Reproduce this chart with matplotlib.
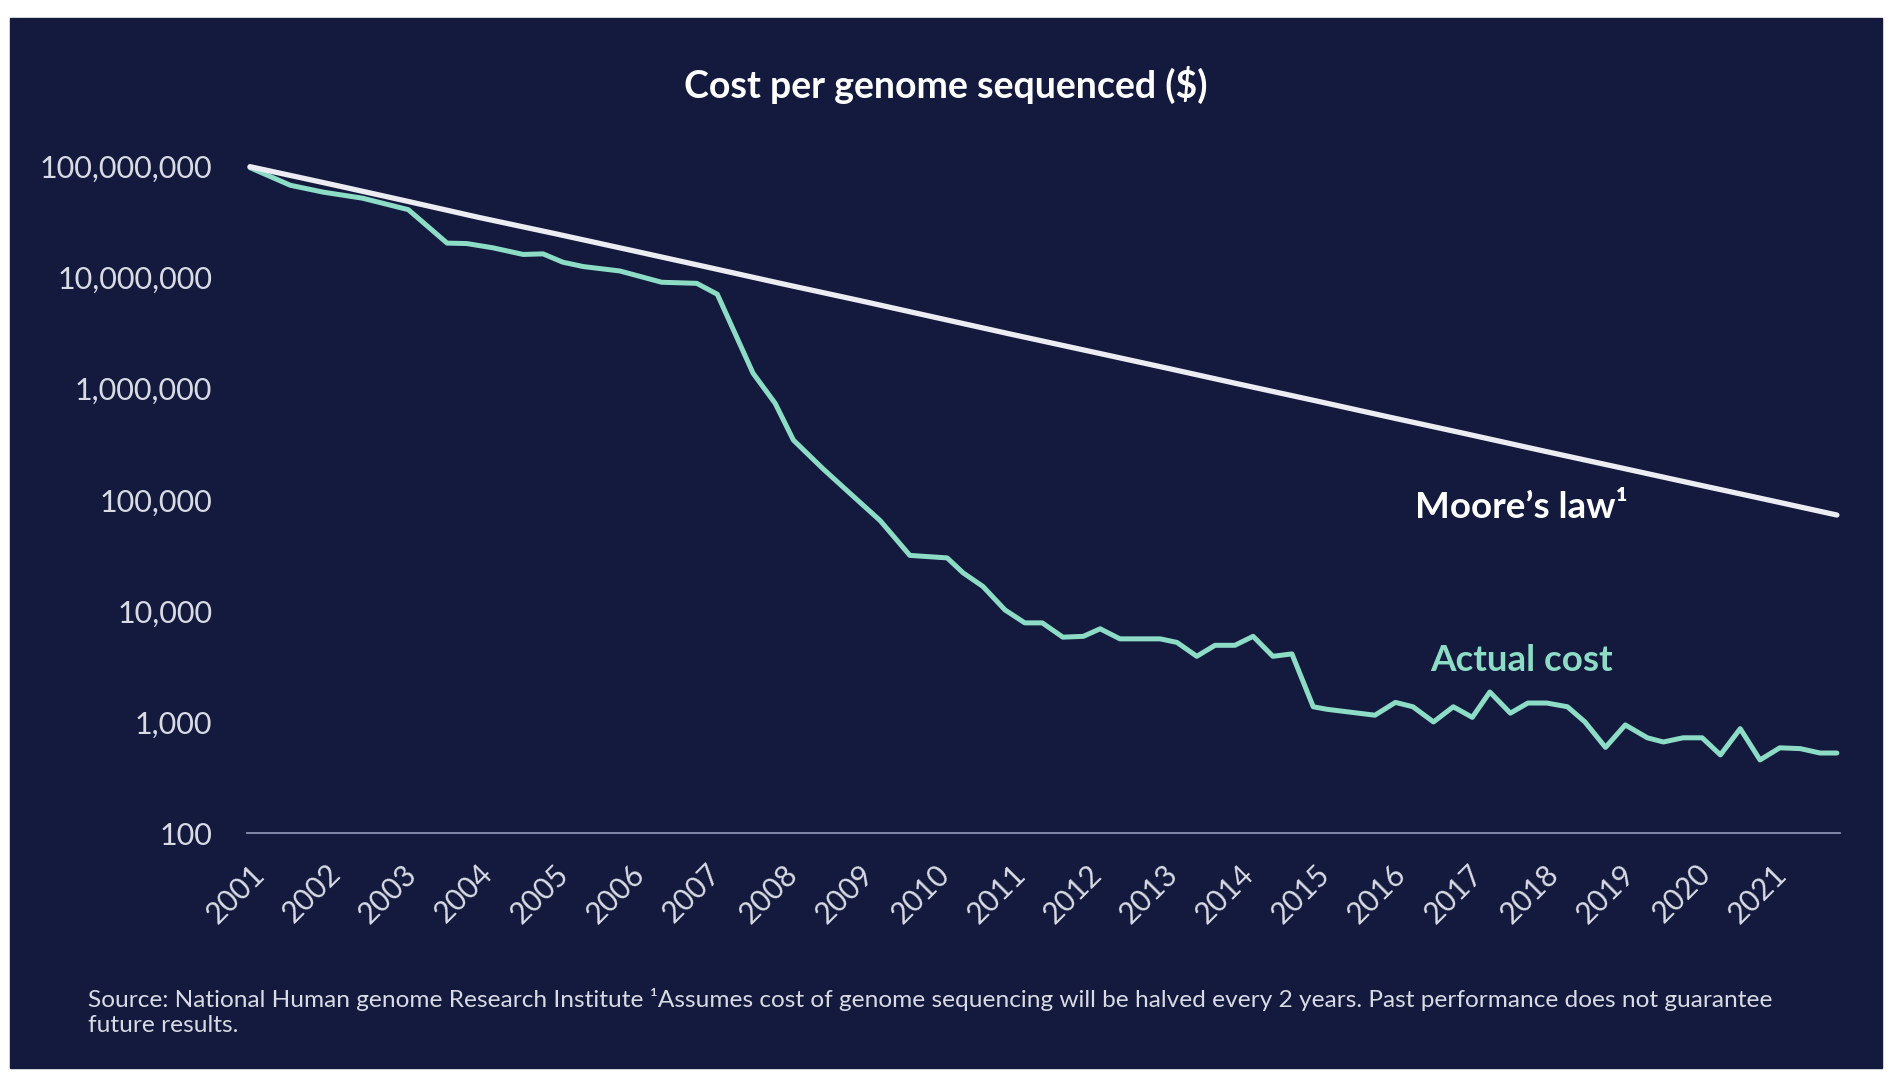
import matplotlib.pyplot as plt
from matplotlib.patches import Rectangle
from matplotlib.ticker import FuncFormatter

plt.rcParams['font.family'] = ['Lato', 'DejaVu Sans']

# data
years = list(range(2001, 2022))
year_labels = [str(y) for y in years]

moore_x = [2001, 2002, 2003, 2004, 2005, 2006, 2007, 2008, 2009, 2010, 2011,
           2012, 2013, 2014, 2015, 2016, 2017, 2018, 2019, 2020, 2021, 2021.85]
moore_cost = [100e6, 71e6, 50e6, 35e6, 25e6, 17.7e6, 12.5e6, 8.8e6, 6.25e6, 4.4e6, 3.1e6,
              2.2e6, 1.56e6, 1.1e6, 780e3, 550e3, 390e3, 275e3, 195e3, 138e3, 98e3, 73e3]

actual_x = [2001.00, 2001.53, 2001.96, 2002.48, 2003.08, 2003.59, 2003.85, 2004.19,
            2004.59, 2004.85, 2005.11, 2005.38, 2005.86, 2006.41, 2006.87, 2007.14,
            2007.61, 2007.90, 2008.14, 2008.53, 2008.88, 2009.28, 2009.67, 2010.16,
            2010.37, 2010.63, 2010.92, 2011.18, 2011.41, 2011.68, 2011.95, 2012.17,
            2012.43, 2012.96, 2013.18, 2013.44, 2013.68, 2013.94, 2014.18, 2014.44,
            2014.69, 2014.97, 2015.15, 2015.78, 2016.05, 2016.28, 2016.55, 2016.81,
            2017.06, 2017.29, 2017.56, 2017.79, 2018.04, 2018.31, 2018.54, 2018.81,
            2019.07, 2019.36, 2019.57, 2019.83, 2020.08, 2020.32, 2020.58, 2020.84,
            2021.10, 2021.37, 2021.63, 2021.85]
actual_cost = [98e6, 68e6, 59e6, 52e6, 41e6, 20.5e6, 20.3e6, 18.6e6,
               16.2e6, 16.4e6, 13.8e6, 12.6e6, 11.5e6, 9.1e6, 8.9e6, 7.1e6,
               1.38e6, 740e3, 345e3, 190e3, 115e3, 65e3, 31.6e3, 30e3,
               22e3, 16.6e3, 10.2e3, 7.8e3, 7.8e3, 5.8e3, 5.9e3, 6.9e3,
               5.6e3, 5.6e3, 5.2e3, 3.9e3, 4.9e3, 4.9e3, 5.9e3, 3.9e3,
               4.1e3, 1370, 1300, 1150, 1500, 1370, 1000, 1370,
               1100, 1860, 1200, 1480, 1480, 1370, 1000, 590,
               940, 720, 660, 720, 720, 505, 870, 455,
               585, 575, 525, 525]

y_ticks = [100, 1_000, 10_000, 100_000, 1_000_000, 10_000_000, 100_000_000]

NAVY = '#131A3D'
MINT = '#8CDCC6'
WHITE_LINE = '#ECECF2'
LABEL = '#D9DBE4'

fig = plt.figure(figsize=(18.98, 10.80), dpi=100, facecolor='white')
fig.add_artist(Rectangle((10 / 1898, 1 - 1068 / 1080), 1872 / 1898, 1050 / 1080,
                         transform=fig.transFigure, color=NAVY, zorder=0))

ax = fig.add_axes([0.1301, 0.2287, 0.8393, 0.6287])
ax.patch.set_alpha(0)

ax.plot(moore_x, moore_cost, color=WHITE_LINE, lw=3.8, solid_capstyle='round', zorder=3)
ax.plot(actual_x, actual_cost, color=MINT, lw=3.6, solid_capstyle='round', zorder=2)

ax.set_yscale('log')
ax.set_ylim(100, 1.3e8)
ax.set_xlim(2000.96, 2021.89)
ax.set_yticks(y_ticks)
ax.yaxis.set_major_formatter(FuncFormatter(lambda v, p: f"{int(v):,}"))
ax.yaxis.set_minor_locator(plt.NullLocator())
ax.set_xticks(years)
ax.set_xticklabels(year_labels, rotation=45, ha='right', va='top', rotation_mode='anchor')

ax.tick_params(axis='y', length=0, pad=25, labelsize=22, labelcolor=LABEL)
ax.tick_params(axis='x', length=0, pad=19, labelsize=21.5, labelcolor=LABEL)

for s in ['top', 'right', 'left']:
    ax.spines[s].set_visible(False)
ax.spines['bottom'].set_color('#8A90B0')
ax.spines['bottom'].set_linewidth(1.3)

ax.text(2017.71, 85e3, 'Moore\u2019s law\u00b9', color='white', fontsize=26.5,
        fontweight='bold', ha='center', va='center')
ax.text(2017.71, 3.6e3, 'Actual cost', color=MINT, fontsize=26.5,
        fontweight='bold', ha='center', va='center')

fig.text(946 / 1898, 1 - 85 / 1080, 'Cost per genome sequenced ($)', color='white',
         fontsize=27, fontweight='bold', ha='center', va='center')

fig.text(88 / 1898, 1 - 1012 / 1080,
         'Source: National Human genome Research Institute \u00b9Assumes cost of genome '
         'sequencing will be halved every 2 years. Past performance does not guarantee\n'
         'future results.',
         color=LABEL, fontsize=17.6, ha='left', va='center', linespacing=1.2)

fig.savefig('out.png', dpi=100, facecolor='white')
